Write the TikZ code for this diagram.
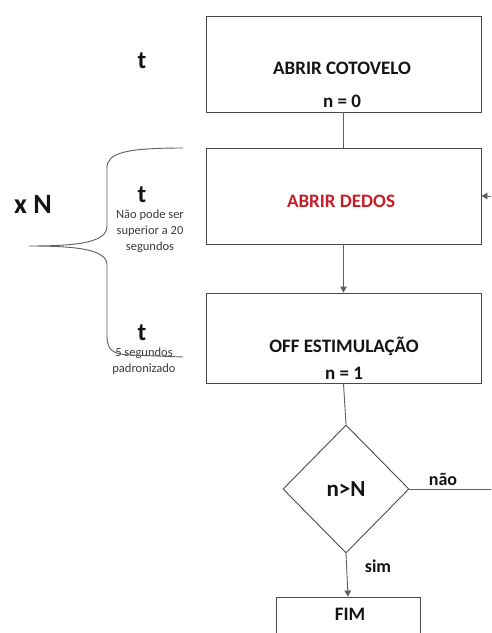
\documentclass[tikz,border=0pt]{standalone}
\usepackage{fontspec}
\setmainfont{Carlito}
\usetikzlibrary{shapes.geometric,arrows.meta}
\definecolor{boxline}{RGB}{75,75,75}
\definecolor{conline}{RGB}{95,95,95}
\definecolor{txt}{RGB}{20,20,20}
\definecolor{redtxt}{RGB}{200,30,40}
\definecolor{smalltxt}{RGB}{60,60,60}
\tikzset{
  stepbox/.style={draw=boxline, line width=0.9pt, rectangle, inner sep=0pt},
  boxtext/.style={anchor=base, font=\fontsize{19}{22}\selectfont\bfseries, text=txt, inner sep=0pt},
  ttext/.style={anchor=base, font=\fontsize{25}{28}\selectfont\bfseries, text=txt, inner sep=0pt},
  smalltext/.style={anchor=base, font=\fontsize{12.5}{16}\selectfont, text=smalltxt, inner sep=0pt},
  lbl/.style={anchor=base, font=\fontsize{18}{20}\selectfont\bfseries, text=txt, inner sep=0pt},
  conn/.style={draw=conline, line width=0.9pt},
  arr/.style={conn, -{Triangle[length=6pt,width=6.5pt]}},
}
\begin{document}
\begin{tikzpicture}[x=1pt,y=-1pt]
\clip (0,0) rectangle (491,633);
\fill[white] (0,0) rectangle (491,633);

% boxes
\node[stepbox, minimum width=275pt, minimum height=96pt] (b1) at (343.5,64) {};
\node[stepbox, minimum width=275pt, minimum height=96pt] (b2) at (343.5,196) {};
\node[stepbox, minimum width=275pt, minimum height=90pt] (b3) at (343.5,338) {};
\node[draw=boxline, line width=0.9pt, diamond, inner sep=0pt, minimum width=126pt, minimum height=128pt] (d) at (346,489) {};
\node[stepbox, minimum width=144pt, minimum height=80pt] (fim) at (348,637) {};

% box texts
\node[boxtext] (t1a) at (342,74) {ABRIR COTOVELO};
\node[boxtext] (t1b) at (342,107) {n = 0};
\node[boxtext, text=redtxt] (t2a) at (341,207) {ABRIR DEDOS};
\node[boxtext] (t3a) at (344,352) {OFF ESTIMULAÇÃO};
\node[boxtext] (t3b) at (344,379) {n = 1};
\node[lbl, font=\fontsize{23}{26}\selectfont\bfseries] (tn) at (346,496) {n>N};
\node[boxtext] (tfim) at (350,620) {FIM};
\node[lbl] (nao) at (443,485) {não};
\node[lbl] (sim) at (378,572) {sim};

% left texts
\node[ttext] (ta) at (142,68) {t};
\node[ttext] (tb) at (142,202) {t};
\node[ttext] (tc) at (142,340) {t};
\node[ttext, font=\fontsize{28}{30}\selectfont\bfseries] (xn) at (33,213) {x N};
\node[smalltext] (s1) at (150,218) {Não pode ser};
\node[smalltext] (s2) at (150,234) {superior a 20};
\node[smalltext] (s3) at (150,250) {segundos};
\node[smalltext] (s4) at (144,356) {5 segundos};
\node[smalltext] (s5) at (144,372) {padronizado};

% brace
\draw[conline, line width=0.9pt]
  (183,148) .. controls (125,148) and (107,153) .. (107,168)
  -- (107,226) .. controls (107,242) and (80,246) .. (29,246)
  .. controls (80,246) and (107,250) .. (107,265)
  -- (107,335) .. controls (107,350) and (112,354) .. (130,355)
  -- (183,357);

% connectors
\draw[conn] (b1.south) -- (b2.north);
\draw[arr] (b2.south) -- (b3.north);
\draw[conn] (b3.south) -- (d.north);
\draw[arr] (d.south) -- (fim.north);
\coordinate (loopr) at (500,489);
\draw[arr] (d.east) -- (loopr) |- (b2.east);
\end{tikzpicture}
\end{document}
